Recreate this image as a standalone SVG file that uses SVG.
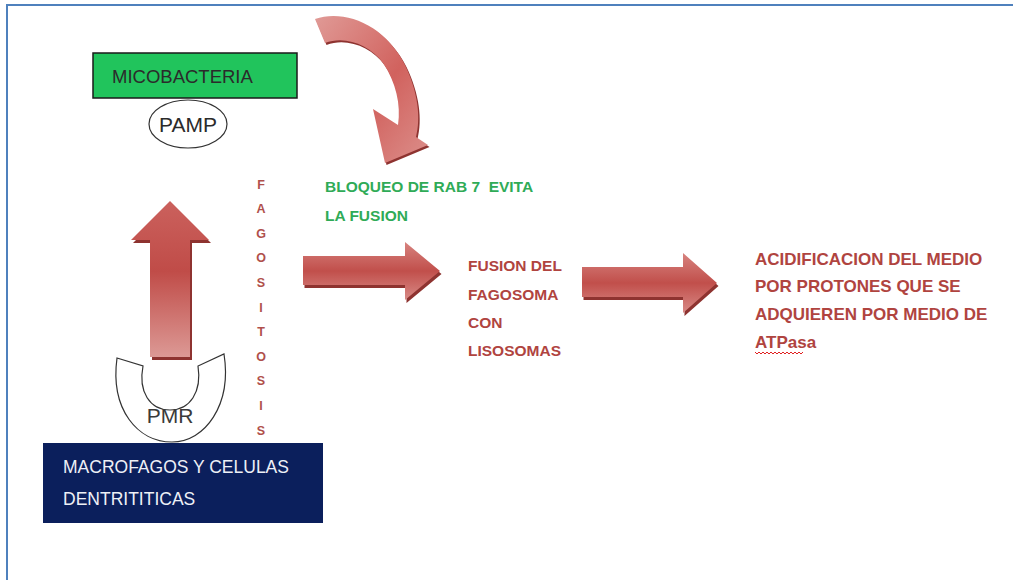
<svg xmlns="http://www.w3.org/2000/svg" width="1013" height="580" viewBox="0 0 1013 580">
<style>
.lbl{font-family:"Liberation Sans",Arial,sans-serif}
.red{font-family:"Liberation Sans",Arial,sans-serif;font-weight:bold;font-size:15.5px;fill:#b0443f}
.red2{font-family:"Liberation Sans",Arial,sans-serif;font-weight:bold;font-size:17px;fill:#b0443f}
.grn{font-family:"Liberation Sans",Arial,sans-serif;font-weight:bold;font-size:15.5px;fill:#2fab57;white-space:pre}
.vert{font-family:"Liberation Sans",Arial,sans-serif;font-weight:bold;font-size:12.5px;fill:#b0504b;text-anchor:middle}
.shadow{fill:#8e3330}
</style>
<defs>
<linearGradient id="gh" x1="0" y1="0" x2="0" y2="1">
<stop offset="0" stop-color="#d7837f"/>
<stop offset="0.5" stop-color="#c14f4b"/>
<stop offset="1" stop-color="#d88a86"/>
</linearGradient>
<linearGradient id="gv" x1="0" y1="0" x2="0" y2="1">
<stop offset="0" stop-color="#cb615d"/>
<stop offset="0.45" stop-color="#c04c48"/>
<stop offset="1" stop-color="#dc9995"/>
</linearGradient>
<linearGradient id="gc" x1="0" y1="0" x2="1" y2="1">
<stop offset="0" stop-color="#e09a96"/>
<stop offset="0.55" stop-color="#d1625e"/>
<stop offset="1" stop-color="#dc8f8b"/>
</linearGradient>
</defs>
<rect width="1013" height="580" fill="#ffffff"/>
<path d="M7,580 L7,5 L1013,5" fill="none" stroke="#4f81bd" stroke-width="2"/>

<g id="connectors">
<g id="curved-arrow">
<path class="shadow" transform="translate(1.5,2)" d="M315,19 C345,9 385,25 405,65 C418,92 421,118 416,137 L428,145 L385,163 L373,109 L398,125 C401,105 396,82 383,63 C370,45 345,35 325,43 Z"/>
<path fill="url(#gc)" d="M315,19 C345,9 385,25 405,65 C418,92 421,118 416,137 L428,145 L385,163 L373,109 L398,125 C401,105 396,82 383,63 C370,45 345,35 325,43 Z"/>
</g>
<g id="up-arrow">
<path class="shadow" transform="translate(2,3)" d="M170,201 L209,240 L190,240 L190,357 L150,357 L150,240 L131,240 Z"/>
<path fill="url(#gv)" d="M170,201 L209,240 L190,240 L190,357 L150,357 L150,240 L131,240 Z"/>
</g>
<g id="arrow-1">
<path class="shadow" transform="translate(1.5,3)" d="M303,256 L405,256 L405,242 L440,271 L405,300 L405,285 L303,285 Z"/>
<path fill="url(#gh)" d="M303,256 L405,256 L405,242 L440,271 L405,300 L405,285 L303,285 Z"/>
</g>
<g id="arrow-2">
<path class="shadow" transform="translate(1.5,3)" d="M582,267 L683,267 L683,253 L717,283 L683,313 L683,297 L582,297 Z"/>
<path fill="url(#gh)" d="M582,267 L683,267 L683,253 L717,283 L683,313 L683,297 L582,297 Z"/>
</g>
</g>

<g id="micobacteria">
<rect x="93" y="53" width="204" height="45" fill="#21c45c" stroke="#1a1a1a" stroke-width="1.5"/>
<text class="lbl" x="112" y="83" font-size="18.5" fill="#2b2b2b">MICOBACTERIA</text>
</g>

<g id="pamp">
<ellipse cx="188" cy="124" rx="39" ry="24" fill="#ffffff" stroke="#333" stroke-width="1.2"/>
<text class="lbl" x="188" y="132" font-size="21" fill="#2b2b2b" text-anchor="middle">PAMP</text>
</g>

<g id="pmr">
<path d="M117,358 L143,366 C138,392 150,410 170,410 C190,410 202,392 198,366 L224,354 C232,405 205,442 172,442 C138,442 110,410 117,358 Z" fill="#ffffff" stroke="#333" stroke-width="1.2"/>
<text class="lbl" x="170" y="423" font-size="21" fill="#3a3a3a" text-anchor="middle">PMR</text>
</g>

<g id="macrofagos">
<rect x="43" y="443" width="280" height="80" fill="#0b1f5c"/>
<text class="lbl" x="63" y="473" font-size="17.5" fill="#eef0f6">MACROFAGOS Y CELULAS</text>
<text class="lbl" x="63" y="505" font-size="17.5" fill="#eef0f6">DENTRITITICAS</text>
</g>

<g id="fagositosis">
<text class="vert" x="261" y="189">F</text>
<text class="vert" x="261" y="213">A</text>
<text class="vert" x="261" y="238">G</text>
<text class="vert" x="261" y="262">O</text>
<text class="vert" x="261" y="287">S</text>
<text class="vert" x="261" y="312">I</text>
<text class="vert" x="261" y="336">T</text>
<text class="vert" x="261" y="361">O</text>
<text class="vert" x="261" y="385">S</text>
<text class="vert" x="261" y="410">I</text>
<text class="vert" x="261" y="435">S</text>
</g>

<g id="bloqueo">
<text class="grn" x="325" y="192">BLOQUEO DE RAB 7  EVITA</text>
<text class="grn" x="325" y="221">LA FUSION</text>
</g>

<g id="fusion">
<text class="red" x="468" y="271">FUSION DEL</text>
<text class="red" x="468" y="300">FAGOSOMA</text>
<text class="red" x="468" y="328">CON</text>
<text class="red" x="468" y="356">LISOSOMAS</text>
</g>

<g id="acidificacion">
<text class="red2" x="755" y="265">ACIDIFICACION DEL MEDIO</text>
<text class="red2" x="755" y="292">POR PROTONES QUE SE</text>
<text class="red2" x="755" y="320">ADQUIEREN POR MEDIO DE</text>
<text class="red2" x="755" y="348">ATPasa</text>
<path d="M755,352 l2,2 l2,-2 l2,2 l2,-2 l2,2 l2,-2 l2,2 l2,-2 l2,2 l2,-2 l2,2 l2,-2 l2,2 l2,-2 l2,2 l2,-2 l2,2 l2,-2 l2,2 l2,-2 l2,2 l2,-2 l2,2 l2,-2" fill="none" stroke="#e02020" stroke-width="1"/>
</g>
</svg>
